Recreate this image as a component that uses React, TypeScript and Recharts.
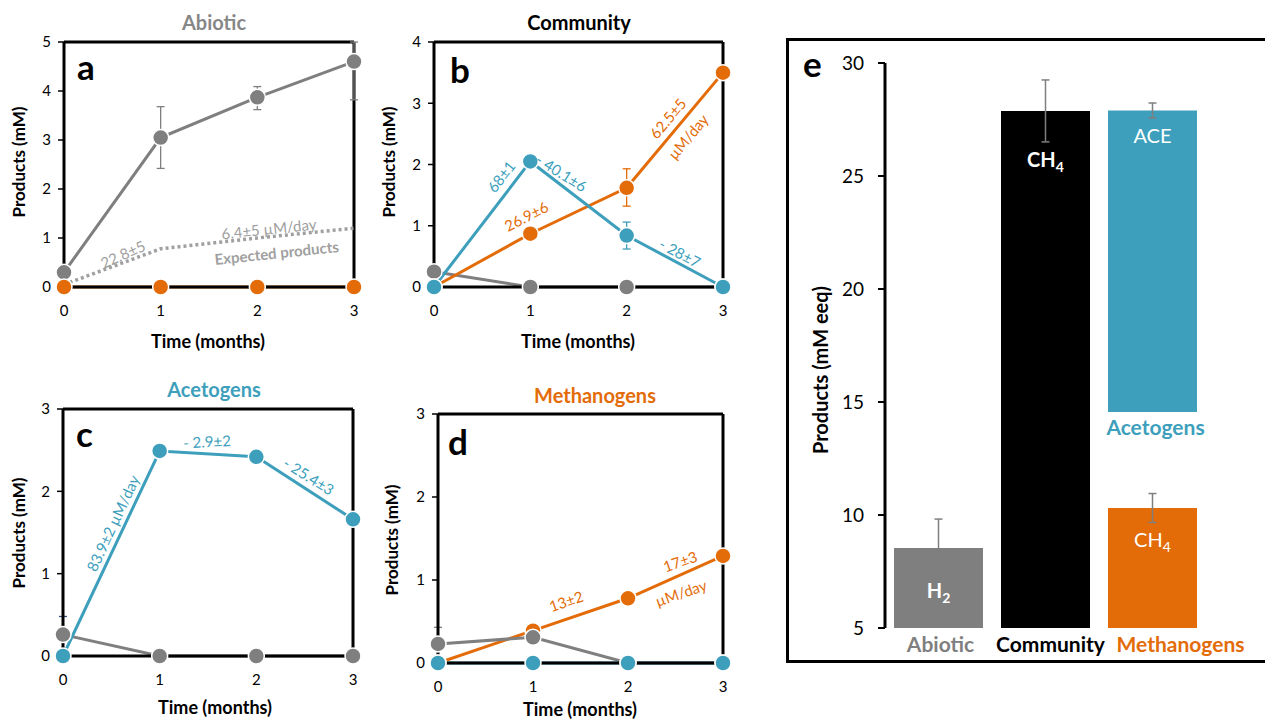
import React from "react";
import {
  LineChart, Line, XAxis, YAxis, ReferenceLine, ReferenceDot, ErrorBar,
  BarChart, Bar, Cell, LabelList,
} from "recharts";

const FONT = "Lato, 'Open Sans', sans-serif";
const GRAY = "#7f7f7f";
const ORANGE = "#e36c09";
const BLUE = "#3d9fbc";
const LIGHT = "#a0a0a0";

const months = [0, 1, 2, 3];

// a: abiotic
const abioticH2 = [0.3, 3.05, 3.87, 4.6];
const abioticH2Err = [null, [0.63, 0.63], [0.25, 0.22], [0.78, 0.4]];
const abioticCH4 = [0, 0, 0, 0];
const abioticExpected = [0.05, 0.78, 1.0, 1.2];

// b: community
const commH2 = [0.25, 0, 0, 0];
const commCH4 = [0, 0.87, 1.62, 3.5];
const commCH4Err = [null, null, [0.3, 0.31], null];
const commAce = [0, 2.05, 0.84, 0];
const commAceErr = [null, null, [0.22, 0.22], null];

// c: acetogens
const acetoH2 = [0.26, 0, 0, 0];
const acetoH2Err = [[0.2, 0.22], null, null, null];
const acetoAce = [0, 2.49, 2.42, 1.66];

// d: methanogens
const methH2 = [0.23, 0.31, 0, 0];
const methH2Err = [[0.2, 0.2], null, null, null];
const methCH4 = [0, 0.39, 0.78, 1.29];
const methAce = [0, 0, 0, 0];

// e: total products (mM eeq)
const groups = ["Abiotic", "Community", "Methanogens"];
const groupColors = [GRAY, "#000000", ORANGE];
const baseProducts = [8.54, 27.88, 10.31];
const baseErr = [1.28, 1.37, 0.64];
const aceGap = [0, 0, 4.25];
const aceProducts = [0, 0, 13.34];
const aceErr = [null, null, 0.33];
const innerLabels = [
  { main: "H", sub: "2", bold: true },
  { main: "CH", sub: "4", bold: true },
  { main: "CH", sub: "4", bold: false },
];

type Note = { text: string; x: number; y: number; angle: number; color: string; bold?: boolean };
type SeriesDef = { key: string; color: string; errKey?: string; errColor?: string; dotted?: boolean };

const notesA: Note[] = [
  { text: "22.8±5", x: 0.61, y: 0.66, angle: -24, color: LIGHT },
  { text: "6.4±5 µM/day", x: 2.12, y: 1.18, angle: -6, color: LIGHT },
  { text: "Expected products", x: 2.2, y: 0.69, angle: -6, color: LIGHT, bold: true },
];
const notesB: Note[] = [
  { text: "68±1", x: 0.7, y: 1.8, angle: -52, color: BLUE },
  { text: "- 40.1±6", x: 1.32, y: 1.86, angle: 32, color: BLUE },
  { text: "26.9±6", x: 0.96, y: 1.15, angle: -27, color: ORANGE },
  { text: "62.5±5", x: 2.43, y: 2.75, angle: -50, color: ORANGE },
  { text: "µM/day", x: 2.64, y: 2.45, angle: -50, color: ORANGE },
  { text: "- 28±7", x: 2.55, y: 0.55, angle: 28, color: BLUE },
];
const notesC: Note[] = [
  { text: "83.9±2 µM/day", x: 0.52, y: 1.61, angle: -65, color: BLUE },
  { text: "- 2.9±2", x: 1.49, y: 2.6, angle: -3, color: BLUE },
  { text: "- 25.4±3", x: 2.54, y: 2.18, angle: 32, color: BLUE },
];
const notesD: Note[] = [
  { text: "13±2", x: 1.35, y: 0.74, angle: -19, color: ORANGE },
  { text: "17±3", x: 2.55, y: 1.22, angle: -19, color: ORANGE },
  { text: "µM/day", x: 2.56, y: 0.84, angle: -19, color: ORANGE },
];

const rowsA = months.map((t, i) => ({ t, h2: abioticH2[i], h2Err: abioticH2Err[i], ch4: abioticCH4[i], exp: abioticExpected[i] }));
const rowsB = months.map((t, i) => ({ t, h2: commH2[i], ch4: commCH4[i], ch4Err: commCH4Err[i], ace: commAce[i], aceErr: commAceErr[i] }));
const rowsC = months.map((t, i) => ({ t, h2: acetoH2[i], h2Err: acetoH2Err[i], ace: acetoAce[i] }));
const rowsD = months.map((t, i) => ({ t, h2: methH2[i], h2Err: methH2Err[i], ch4: methCH4[i], ace: methAce[i] }));
const barRows = groups.map((name, i) => ({
  name, base: baseProducts[i], baseErr: baseErr[i], gap: aceGap[i], ace: aceProducts[i], aceErr: aceErr[i],
}));

function TimePanel({ left, top, width, height, margin, yAxisWidth, yMax, rows, series, notes }: {
  left: number; top: number; width: number; height: number;
  margin: { top: number; right: number; bottom: number; left: number };
  yAxisWidth: number; yMax: number; rows: any[]; series: SeriesDef[]; notes: Note[];
}) {
  const yTicks = Array.from({ length: yMax + 1 }, (_, i) => i);
  return (
    <div style={{ position: "absolute", left, top }}>
      <LineChart width={width} height={height} data={rows} margin={margin}>
        <XAxis dataKey="t" type="number" domain={[0, 3]} ticks={months} height={50}
          axisLine={{ stroke: "#000", strokeWidth: 3 }} tickLine={false} tickSize={6} tickMargin={12}
          tick={{ fill: "#000", fontSize: 15 }} />
        <YAxis type="number" domain={[0, yMax]} ticks={yTicks} width={yAxisWidth}
          axisLine={{ stroke: "#000", strokeWidth: 3 }} tickLine={{ stroke: "#000", strokeWidth: 1.5 }}
          tickSize={6} tickMargin={7} tick={{ fill: "#000", fontSize: 15 }} />
        <ReferenceLine y={yMax} stroke="#000" strokeWidth={3} />
        <ReferenceLine x={3} stroke="#000" strokeWidth={3} />
        {series.map((s) => s.dotted ? (
          <Line key={s.key} type="linear" dataKey={s.key} stroke={s.color} strokeWidth={3.5}
            strokeDasharray="3 3" dot={false} activeDot={false} isAnimationActive={false} />
        ) : (
          <Line key={s.key} type="linear" dataKey={s.key} stroke={s.color} strokeWidth={3}
            dot={{ r: 8, fill: s.color, stroke: "#fff", strokeWidth: 1.5 }} activeDot={false}
            isAnimationActive={false}>
            {s.errKey && (
              <ErrorBar dataKey={s.errKey} width={4} stroke={s.errColor ?? s.color} strokeWidth={1.3}
                isAnimationActive={false} />
            )}
          </Line>
        ))}
        {notes.map((n, i) => (
          <ReferenceDot key={i} x={n.x} y={n.y} r={0} fill="none" stroke="none"
            label={{ value: n.text, position: "center", angle: n.angle, fill: n.color, fontSize: 15,
              fontWeight: n.bold ? 700 : 400 }} />
        ))}
      </LineChart>
    </div>
  );
}

const groupTickDx = [2, 5, 28];
function GroupTick(props: any) {
  const { x, y, payload, index } = props;
  return (
    <text x={x + groupTickDx[index]} y={y + 24} textAnchor="middle" fill={groupColors[index]}
      fontSize={21} fontWeight={700}>{payload.value}</text>
  );
}

const innerLabelDy = [50, 56, 39];
function baseLabel(p: any) {
  const vb = p.viewBox ?? p;
  const i = p.index;
  const lab = innerLabels[i];
  if (!lab) return null;
  return (
    <text x={vb.x + vb.width / 2} y={vb.y + innerLabelDy[i]} textAnchor="middle" fill="#fff"
      fontSize={20} fontWeight={lab.bold ? 700 : 400}>
      {lab.main}<tspan fontSize={14} dy={5}>{lab.sub}</tspan>
    </text>
  );
}
function aceLabel(p: any) {
  const vb = p.viewBox ?? p;
  if (!vb || !(Math.abs(vb.height) > 1)) return null;
  const cx = vb.x + vb.width / 2;
  return (
    <g>
      <text x={cx} y={vb.y + 33} textAnchor="middle" fill="#fff" fontSize={20}>ACE</text>
      <text x={cx + 3} y={vb.y + vb.height + 23} textAnchor="middle" fill={BLUE} fontSize={21}
        fontWeight={700}>Acetogens</text>
    </g>
  );
}

const overlayTexts = [
  { text: "Abiotic", x: 214, y: 30, color: "#878787", size: 20 },
  { text: "Community", x: 579, y: 30, color: "#000", size: 20 },
  { text: "Acetogens", x: 214, y: 397, color: BLUE, size: 20 },
  { text: "Methanogens", x: 595, y: 403, color: ORANGE, size: 20 },
  { text: "Time (months)", x: 208, y: 348, color: "#000", size: 18 },
  { text: "Time (months)", x: 578, y: 348, color: "#000", size: 18 },
  { text: "Time (months)", x: 215, y: 714, color: "#000", size: 18 },
  { text: "Time (months)", x: 580, y: 716, color: "#000", size: 18 },
];
const panelLetters = [
  { text: "a", x: 77, y: 80 },
  { text: "b", x: 450, y: 83 },
  { text: "c", x: 76, y: 447 },
  { text: "d", x: 448, y: 455 },
  { text: "e", x: 803, y: 77 },
];
const yTitles = [
  { text: "Products (mM)", x: 25, y: 162, size: 17 },
  { text: "Products (mM)", x: 395, y: 162, size: 17 },
  { text: "Products (mM)", x: 25, y: 533, size: 17 },
  { text: "Products (mM)", x: 398, y: 540, size: 17 },
  { text: "Products (mM eeq)", x: 828, y: 370, size: 20 },
];

export default function App() {
  return (
    <div style={{ position: "fixed", left: 0, top: 0, width: 1265, height: 722, overflow: "hidden",
      background: "#fff", fontFamily: FONT }}>
      <div style={{ position: "absolute", left: 786, top: 38, width: 520, height: 625,
        boxSizing: "border-box", border: "3px solid #000" }} />

      <TimePanel left={0} top={0} width={380} height={360} yAxisWidth={64} yMax={5}
        margin={{ top: 42, right: 26, bottom: 23, left: 0 }} rows={rowsA} notes={notesA}
        series={[
          { key: "h2", color: GRAY, errKey: "h2Err" },
          { key: "ch4", color: ORANGE },
          { key: "exp", color: LIGHT, dotted: true },
        ]} />
      <TimePanel left={370} top={0} width={380} height={360} yAxisWidth={64} yMax={4}
        margin={{ top: 42, right: 27, bottom: 23, left: 0 }} rows={rowsB} notes={notesB}
        series={[
          { key: "h2", color: GRAY },
          { key: "ch4", color: ORANGE, errKey: "ch4Err" },
          { key: "ace", color: BLUE, errKey: "aceErr" },
        ]} />
      <TimePanel left={0} top={360} width={380} height={362} yAxisWidth={63} yMax={3}
        margin={{ top: 49, right: 27, bottom: 16, left: 0 }} rows={rowsC} notes={notesC}
        series={[
          { key: "h2", color: GRAY, errKey: "h2Err", errColor: "#2f4f7f" },
          { key: "ace", color: BLUE },
        ]} />
      <TimePanel left={370} top={360} width={380} height={362} yAxisWidth={68} yMax={3}
        margin={{ top: 54, right: 27, bottom: 9, left: 0 }} rows={rowsD} notes={notesD}
        series={[
          { key: "ch4", color: ORANGE },
          { key: "h2", color: GRAY, errKey: "h2Err" },
          { key: "ace", color: BLUE },
        ]} />

      <div style={{ position: "absolute", left: 786, top: 38 }}>
        <BarChart width={476} height={624} data={barRows} margin={{ top: 25, right: 56, bottom: 0, left: 0 }}
          barSize={89}>
          <XAxis dataKey="name" axisLine={false} tickLine={false} tickSize={0} tickMargin={0} height={34}
            interval={0} tick={<GroupTick />} />
          <YAxis type="number" domain={[5, 30]} ticks={[5, 10, 15, 20, 25, 30]} allowDataOverflow width={99}
            axisLine={{ stroke: "#000", strokeWidth: 3 }} tickLine={{ stroke: "#000", strokeWidth: 2 }}
            tickSize={7} tickMargin={14} tick={{ fill: "#000", fontSize: 19 }} />
          <Bar dataKey="base" stackId="s" isAnimationActive={false}>
            {barRows.map((r, i) => <Cell key={r.name} fill={groupColors[i]} />)}
            <ErrorBar dataKey="baseErr" width={4} stroke={GRAY} strokeWidth={1.5} isAnimationActive={false} />
            <LabelList content={baseLabel} />
          </Bar>
          <Bar dataKey="gap" stackId="s" fill="none" isAnimationActive={false} />
          <Bar dataKey="ace" stackId="s" fill={BLUE} isAnimationActive={false}>
            <ErrorBar dataKey="aceErr" width={4} stroke={GRAY} strokeWidth={1.5} isAnimationActive={false} />
            <LabelList content={aceLabel} />
          </Bar>
        </BarChart>
      </div>

      <svg width={1265} height={722} style={{ position: "absolute", left: 0, top: 0, pointerEvents: "none" }}
        fontFamily={FONT}>
        {overlayTexts.map((t, i) => (
          <text key={"o" + i} x={t.x} y={t.y} textAnchor="middle" fill={t.color} fontSize={t.size}
            fontWeight={700}>{t.text}</text>
        ))}
        {panelLetters.map((t) => (
          <text key={t.text} x={t.x} y={t.y} fill="#000" fontSize={35} fontWeight={700}>{t.text}</text>
        ))}
        {yTitles.map((t, i) => (
          <text key={"y" + i} transform={`translate(${t.x},${t.y}) rotate(-90)`} textAnchor="middle"
            fill="#000" fontSize={t.size} fontWeight={700}>{t.text}</text>
        ))}
      </svg>
    </div>
  );
}
